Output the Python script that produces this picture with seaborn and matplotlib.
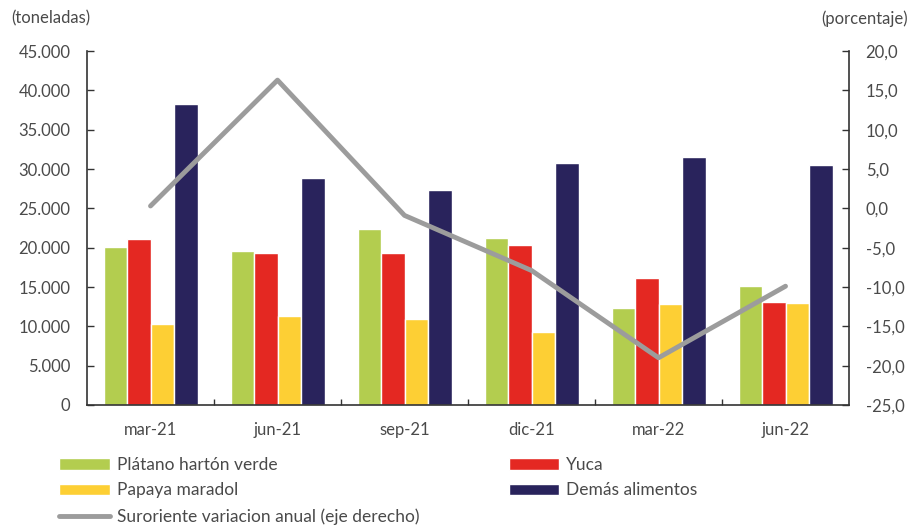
import numpy as np
import pandas as pd
import matplotlib
matplotlib.use("Agg")
import matplotlib.pyplot as plt
import matplotlib.ticker as mticker
from matplotlib.patches import Patch
from matplotlib.lines import Line2D
import seaborn as sns

# datos
trimestres = ["mar-21", "jun-21", "sep-21", "dic-21", "mar-22", "jun-22"]
platano = [20100, 19600, 22400, 21200, 12300, 15100]
yuca = [21100, 19300, 19300, 20300, 16100, 13100]
papaya = [10300, 11300, 10900, 9300, 12800, 13000]
demas = [38300, 28900, 27300, 30800, 31500, 30500]
variacion = [0.3, 16.3, -0.9, -7.9, -19.0, -9.9]

series = ["Plátano hartón verde", "Yuca", "Papaya maradol", "Demás alimentos"]
colores = ["#b3cd4f", "#e42822", "#fdcf34", "#29235c"]
gris = "#9c9c9c"

df = pd.DataFrame({
    "trimestre": trimestres * 4,
    "producto": np.repeat(series, len(trimestres)),
    "toneladas": platano + yuca + papaya + demas,
})

sns.set_theme(style="white")
plt.rcParams['font.family'] = ['Lato', 'DejaVu Sans']
txt = "#4a4a4a"

fig = plt.figure(figsize=(9.14, 5.27), dpi=100)
ax = fig.add_axes([0.0952, 0.2315, 0.8337, 0.6717])

sns.barplot(data=df, x="trimestre", y="toneladas", hue="producto", hue_order=series,
            palette=colores, width=0.74, edgecolor="white", linewidth=1,
            saturation=1, legend=False, ax=ax)

ax.set_ylim(0, 45000)
ax.set_xlim(-0.5, 5.5)
ax.yaxis.set_major_locator(mticker.MultipleLocator(5000))
ax.yaxis.set_major_formatter(mticker.FuncFormatter(lambda v, p: f"{int(v):,}".replace(",", ".")))
ax.set_xlabel("")
ax.set_ylabel("")

ax2 = ax.twinx()
sns.lineplot(x=list(range(len(trimestres))), y=variacion, color=gris, linewidth=3.5,
             ax=ax2, legend=False)
ax2.set_ylim(-25, 20)
ax2.set_xlim(-0.5, 5.5)
ax2.yaxis.set_major_locator(mticker.MultipleLocator(5))
ax2.yaxis.set_major_formatter(mticker.FuncFormatter(lambda v, p: f"{v:.1f}".replace(".", ",")))

for a in (ax, ax2):
    for s in a.spines.values():
        s.set_visible(False)
ax.spines["left"].set_visible(True)
ax.spines["bottom"].set_visible(True)
ax2.spines["right"].set_visible(True)
for s in (ax.spines["left"], ax.spines["bottom"], ax2.spines["right"]):
    s.set_color("#333333")
    s.set_linewidth(1.2)

ax.tick_params(axis="y", direction="in", length=5, width=1, color="#333333",
               labelsize=12, labelcolor=txt, pad=12, left=True)
ax2.tick_params(axis="y", direction="in", length=5, width=1, color="#333333",
                labelsize=12, labelcolor=txt, pad=12, right=True)
ax.set_xticks(range(len(trimestres)))
ax.set_xticklabels(trimestres)
ax.tick_params(axis="x", length=0, labelsize=12, labelcolor=txt, pad=12)
ax.set_xticks(np.arange(0.5, 5.5, 1), minor=True)
ax.tick_params(axis="x", which="minor", direction="in", length=4, width=1,
               color="#333333", bottom=True)

fig.text(0.012, 0.965, "(toneladas)", fontsize=12, color=txt, ha="left", va="center")
fig.text(0.993, 0.965, "(porcentaje)", fontsize=12, color=txt, ha="right", va="center")

h1 = [Patch(facecolor=colores[0]), Patch(facecolor=colores[2]),
      Line2D([0], [0], color=gris, linewidth=3.5)]
l1 = [series[0], series[2], "Suroriente variacion anual (eje derecho)"]
h2 = [Patch(facecolor=colores[1]), Patch(facecolor=colores[3])]
l2 = [series[1], series[3]]

kw = dict(frameon=False, fontsize=12.5, handlelength=2.9, handleheight=0.65,
          handletextpad=0.4, labelspacing=0.55, borderaxespad=0, borderpad=0,
          labelcolor=txt)
fig.legend(h1, l1, loc="upper left", bbox_to_anchor=(0.065, 0.133), **kw)
fig.legend(h2, l2, loc="upper left", bbox_to_anchor=(0.557, 0.133), **kw)

fig.savefig("out.png", dpi=100)
